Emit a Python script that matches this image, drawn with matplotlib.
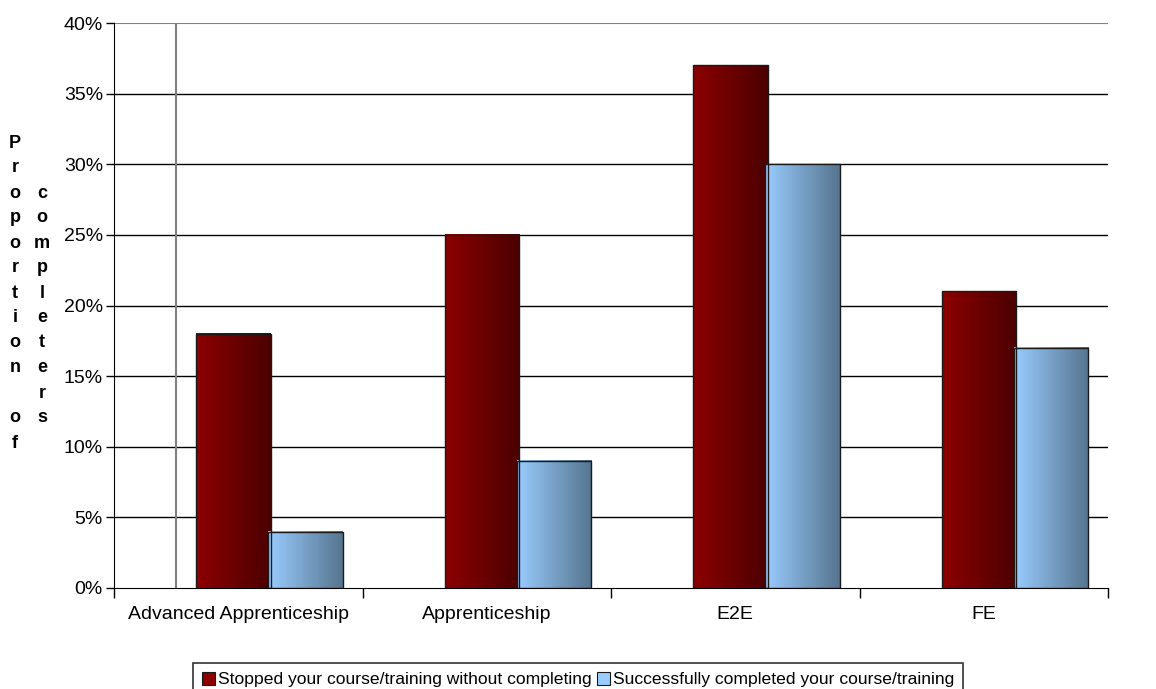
import numpy as np
import matplotlib
matplotlib.use("Agg")
import matplotlib.pyplot as plt
from matplotlib.colors import LinearSegmentedColormap
from matplotlib.ticker import FixedLocator, FuncFormatter

plt.rcParams['font.family'] = ['Liberation Sans', 'DejaVu Sans']

categories = ["Advanced Apprenticeship", "Apprenticeship", "E2E", "FE"]
stopped = [0.18, 0.25, 0.37, 0.21]
completed = [0.04, 0.09, 0.30, 0.17]
series_names = ["Stopped your course/training without completing",
                "Successfully completed your course/training"]
yticks = [0, 0.05, 0.10, 0.15, 0.20, 0.25, 0.30, 0.35, 0.40]

red_map = LinearSegmentedColormap.from_list("red", ["#8c0000", "#4c0000"])
blue_map = LinearSegmentedColormap.from_list("blue", ["#99ccff", "#56758f"])

fig = plt.figure(figsize=(11.56, 6.89), dpi=100)
ax = fig.add_axes([114 / 1156, 101 / 689, 994 / 1156, 565 / 689])

x = np.arange(len(categories))
width = 0.30
offsets = [-0.02, 0.27]
grad = np.linspace(0, 1, 64).reshape(1, -1)


def gradient_bars(xs, values, cmap, label, handle_color):
    for xc, v in zip(xs, values):
        ax.imshow(grad, cmap=cmap, extent=[xc - width / 2, xc + width / 2, 0, v],
                  aspect='auto', interpolation='bilinear', zorder=3)
    ax.bar(xs, values, width, facecolor='none', edgecolor='#1a1a1a',
           linewidth=1.0, zorder=4)
    # proxy patch for the legend
    ax.bar([0], [0], 0, color=handle_color, edgecolor='#1a1a1a', linewidth=0.8,
           label=label)


gradient_bars(x + offsets[0], stopped, red_map, series_names[0], '#8c0000')
gradient_bars(x + offsets[1], completed, blue_map, series_names[1], '#99ccff')

# horizontal grid
for yv in yticks[1:-1]:
    ax.axhline(yv, color='black', linewidth=1.0, zorder=1)
ax.axhline(0.40, color='#808080', linewidth=1.5, zorder=1)
ax.axvline(-0.25, ymax=1, color='#808080', linewidth=1.5, zorder=1)

ax.set_xlim(-0.5, len(categories) - 0.5)
ax.set_ylim(0, 0.40)

ax.spines['top'].set_visible(False)
ax.spines['right'].set_visible(False)
ax.spines['left'].set_color('black')
ax.spines['bottom'].set_color('black')

ax.yaxis.set_major_locator(FixedLocator(yticks))
ax.yaxis.set_major_formatter(FuncFormatter(lambda v, p: f"{v * 100:.0f}%"))
ax.tick_params(axis='y', length=6, width=1, pad=2, labelsize=14)

ax.xaxis.set_major_locator(FixedLocator(np.arange(len(categories) + 1) - 0.5))
ax.xaxis.set_major_formatter(FuncFormatter(lambda v, p: ""))
ax.xaxis.set_minor_locator(FixedLocator(x))
ax.set_xticklabels(categories, minor=True)
ax.tick_params(axis='x', which='major', length=7, width=1)
ax.tick_params(axis='x', which='minor', length=0, pad=13, labelsize=14)

# stacked-letter axis title, two columns
col_a = "Proportion of"
col_b = "completers"
for i, ch in enumerate(col_a):
    fig.text(15 / 1156, 1 - (143 + 25 * i) / 689, ch, ha='center', va='center',
             fontsize=13, fontweight='bold')
for i, ch in enumerate(col_b):
    fig.text(42 / 1156, 1 - (143 + 25 * (i + 2)) / 689, ch, ha='center', va='center',
             fontsize=13, fontweight='bold')

leg = fig.legend(loc='upper center', bbox_to_anchor=(0.5, 1 - 663 / 689), ncol=2,
                 frameon=True, fancybox=False, edgecolor='black', fontsize=12.6,
                 handlelength=0.75, handleheight=0.75, handletextpad=0.15,
                 columnspacing=0.3, borderpad=0.5, borderaxespad=0)
leg.get_frame().set_linewidth(1.2)

fig.savefig("out.png", dpi=100)
